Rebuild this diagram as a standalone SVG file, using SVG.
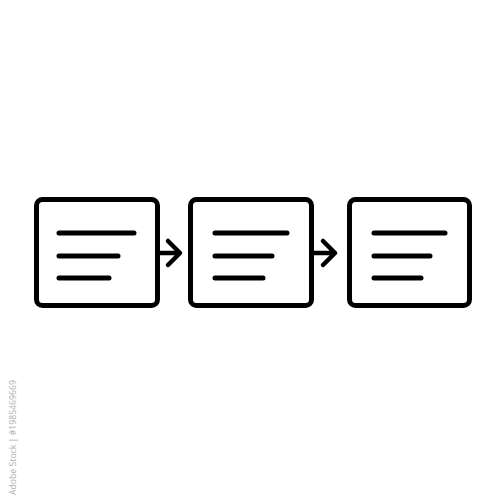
<svg xmlns="http://www.w3.org/2000/svg" width="500" height="500" viewBox="0 0 500 500">
<style>
.box{fill:#fff;stroke:#000;stroke-width:5;}
.ln{stroke:#000;stroke-width:5;stroke-linecap:round;fill:none;}
.arr{stroke:#000;stroke-width:4.5;stroke-linecap:round;stroke-linejoin:round;fill:none;}
.wm{font-family:"Open Sans","Liberation Sans",Arial,sans-serif;font-size:9.5px;fill:#b0b0b0;}
</style>
<rect width="500" height="500" fill="#fff"/>
<g id="connectors">
<path class="arr" d="M160 253 H179 M168 241 L180 253 L168 265"/>
<path class="arr" d="M314 253 H335 M323 241 L335 253 L323 265"/>
</g>
<g id="node1">
<rect class="box" x="36.5" y="199.5" width="121" height="106" rx="6"/>
<path class="ln" d="M59 233 H134 M59 256 H118 M59 278 H109"/>
</g>
<g id="node2">
<rect class="box" x="190.5" y="199.5" width="121" height="106" rx="6"/>
<path class="ln" d="M215 233 H287 M215 256 H272 M215 278 H263"/>
</g>
<g id="node3">
<rect class="box" x="349.5" y="199.5" width="120" height="106" rx="6"/>
<path class="ln" d="M374 233 H445 M374 256 H430 M374 278 H421"/>
</g>
<text class="wm" transform="translate(15.5,495) rotate(-90)" textLength="115" lengthAdjust="spacingAndGlyphs">Adobe Stock | #1985469669</text>
</svg>
